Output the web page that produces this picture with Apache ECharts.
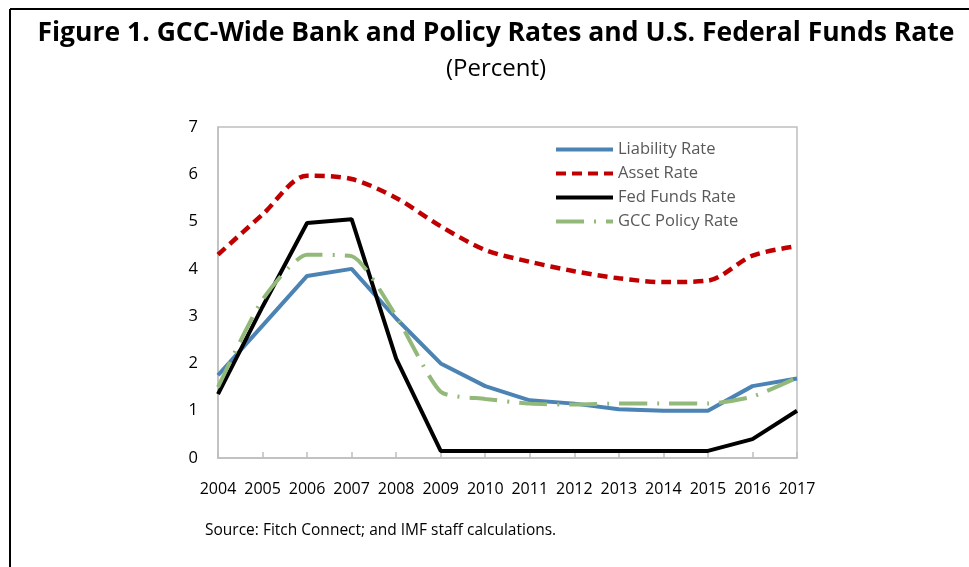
<!DOCTYPE html>
<html>
<head>
<meta charset="utf-8">
<script src="https://cdn.jsdelivr.net/npm/echarts@6/dist/echarts.min.js"></script>
<style>
  html, body { margin: 0; padding: 0; background: #fff; }
  #chart { width: 969px; height: 567px; }
</style>
</head>
<body>
<div id="chart"></div>
<script>
// 年份
const years = ['2004', '2005', '2006', '2007', '2008', '2009', '2010', '2011', '2012', '2013', '2014', '2015', '2016', '2017'];
// 各利率 (百分比)
const liabilityRate = [1.75, 2.8, 3.85, 4.0, 2.95, 2.0, 1.52, 1.22, 1.15, 1.03, 1.0, 1.0, 1.52, 1.68];
const assetRate = [4.3, 5.15, 5.97, 5.9, 5.5, 4.9, 4.4, 4.15, 3.95, 3.8, 3.72, 3.75, 4.28, 4.48];
const fedFundsRate = [1.35, 3.2, 4.97, 5.05, 2.1, 0.15, 0.15, 0.15, 0.15, 0.15, 0.15, 0.15, 0.4, 1.0];
const gccPolicyRate = [1.5, 3.35, 4.3, 4.27, 3.0, 1.4, 1.25, 1.15, 1.13, 1.15, 1.15, 1.15, 1.3, 1.7];
const yTicks = [0, 1, 2, 3, 4, 5, 6, 7];

const chart = echarts.init(document.getElementById('chart'));

const font = '"Open Sans", "Noto Sans", sans-serif';

chart.setOption({
  animation: false,
  backgroundColor: '#fff',
  textStyle: { fontFamily: font },
  title: {
    text: 'Figure 1. GCC-Wide Bank and Policy Rates and U.S. Federal Funds Rate',
    subtext: '(Percent)',
    left: 491,
    textAlign: 'center',
    top: 15,
    itemGap: 10,
    textStyle: { fontFamily: font, fontSize: 26.5, fontWeight: 'bold', color: '#000' },
    subtextStyle: { fontFamily: font, fontSize: 24, color: '#000' }
  },
  grid: {
    left: 218,
    right: 172,
    top: 127,
    bottom: 109,
    show: true,
    borderColor: '#bfbfbf',
    borderWidth: 1.5
  },
  legend: {
    orient: 'vertical',
    left: 549,
    top: 136,
    itemWidth: 57,
    itemHeight: 14,
    itemGap: 7,
    itemStyle: { opacity: 0 },
    lineStyle: { width: 4 },
    textStyle: { fontFamily: font, fontSize: 16.5, color: '#595959', lineHeight: 14 },
    data: ['Liability Rate', 'Asset Rate', 'Fed Funds Rate', 'GCC Policy Rate']
  },
  xAxis: {
    type: 'category',
    data: years,
    boundaryGap: false,
    axisLine: { lineStyle: { color: '#bfbfbf', width: 1.5 } },
    axisTick: { inside: true, interval: 0, length: 6, lineStyle: { color: '#bfbfbf', width: 1.5 } },
    axisLabel: { color: '#000', fontSize: 16, margin: 23, interval: 0, fontFamily: font }
  },
  yAxis: {
    type: 'value',
    min: yTicks[0],
    max: yTicks[yTicks.length - 1],
    interval: 1,
    splitLine: { show: false },
    axisLine: { show: true, lineStyle: { color: '#bfbfbf', width: 1.5 } },
    axisTick: { show: false },
    axisLabel: { color: '#000', fontSize: 16.5, margin: 20, fontFamily: font }
  },
  series: [
    {
      name: 'Liability Rate',
      type: 'line',
      data: liabilityRate,
      symbol: 'none',
      color: '#4a83b4',
      lineStyle: { color: '#4a83b4', width: 4 },
      z: 3
    },
    {
      name: 'Asset Rate',
      type: 'line',
      data: assetRate,
      symbol: 'none',
      smooth: 0.3,
      color: '#c00000',
      lineStyle: { color: '#c00000', width: 4.5, type: [10, 6] },
      z: 2
    },
    {
      name: 'Fed Funds Rate',
      type: 'line',
      data: fedFundsRate,
      symbol: 'none',
      color: '#000',
      lineStyle: { color: '#000', width: 4 },
      z: 4
    },
    {
      name: 'GCC Policy Rate',
      type: 'line',
      data: gccPolicyRate,
      symbol: 'none',
      smooth: 0.2,
      color: '#93b97a',
      lineStyle: { color: '#93b97a', width: 4, type: [28, 10, 2, 10] },
      z: 5
    }
  ],
  graphic: [
    // 外框
    { type: 'line', shape: { x1: 10, y1: 9, x2: 969, y2: 9 }, style: { stroke: '#000', lineWidth: 2 } },
    { type: 'line', shape: { x1: 10, y1: 9, x2: 10, y2: 567 }, style: { stroke: '#000', lineWidth: 2 } },
    {
      type: 'text',
      left: 205,
      top: 523,
      style: { text: 'Source: Fitch Connect; and IMF staff calculations.', fontFamily: font, fontSize: 15.5, fill: '#000' }
    }
  ]
});
</script>
</body>
</html>
